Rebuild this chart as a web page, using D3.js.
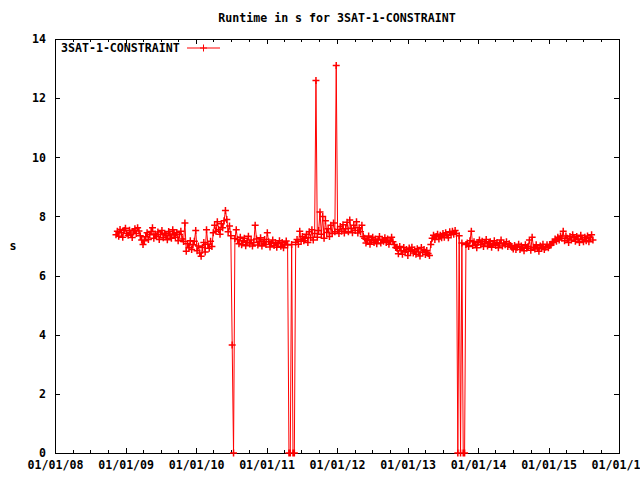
<!DOCTYPE html>
<html>
<head>
<meta charset="utf-8">
<script src="https://cdn.jsdelivr.net/npm/d3@7"></script>
<style>
  html, body { margin: 0; padding: 0; background: #fff; }
  svg text { font-family: "DejaVu Sans Mono", "Liberation Mono", monospace; font-weight: bold; font-size: 11.6px; fill: #000; }
</style>
</head>
<body>
<svg id="chart" width="640" height="480"></svg>
<script>
// ---------------- data ----------------
const chartTitle = "Runtime in s for 3SAT-1-CONSTRAINT";
const seriesName = "3SAT-1-CONSTRAINT";
const yAxisLabel = "s";
const xDomain = ["2008-01-01", "2016-01-01"];
const yDomain = [0, 14];
const yTickValues = [0, 2, 4, 6, 8, 10, 12, 14];
const xTickLabels = ["01/01/08", "01/01/09", "01/01/10", "01/01/11", "01/01/12", "01/01/13", "01/01/14", "01/01/15", "01/01/16"];
// weekly samples starting at this date
const seriesStart = "2008-11-12";
const seriesStepDays = 7;
const runtimes = [
  7.38, 7.50, 7.33, 7.56, 7.45, 7.30, 7.52, 7.60, 7.43, 7.36,
  7.53, 7.41, 7.29, 7.47, 7.58, 7.42, 7.62, 7.51, 7.35, 7.20,
  7.05, 7.18, 7.31, 7.45, 7.22, 7.38, 7.49, 7.62, 7.26, 7.41,
  7.32, 7.47, 7.22, 7.39, 7.52, 7.28, 7.43, 7.35, 7.21, 7.49,
  7.37, 7.26, 7.55, 7.41, 7.30, 7.46, 7.18, 7.39, 7.50, 7.24,
  7.15, 7.78, 6.82, 7.08, 6.94, 7.18, 6.88, 7.04, 7.16, 7.52,
  6.84, 7.00, 6.76, 6.65, 6.95, 7.12, 6.80, 7.55, 7.06, 6.92,
  7.16, 6.98, 7.45, 7.70, 7.50, 7.82, 7.56, 7.40, 7.75, 7.62,
  7.85, 8.20, 7.90, 7.48, 7.68, 7.35, 3.65, 0.00, 7.25, 7.55,
  7.22, 7.08, 7.30, 7.04, 7.18, 7.26, 7.01, 7.13, 7.33, 7.07,
  7.20, 7.00, 7.12, 7.70, 7.24, 7.03, 7.16, 7.28, 7.00, 7.10,
  7.22, 7.05, 7.45, 7.14, 6.97, 7.09, 7.20, 7.02, 7.12, 6.96,
  7.08, 7.18, 6.99, 7.12, 6.94, 7.06, 7.17, 7.03, 0.00, 0.00,
  7.05, 0.00, 0.00, 7.13, 7.22, 7.06, 7.50, 7.16, 7.32, 7.18,
  7.26, 7.40, 7.12, 7.48, 7.28, 7.55, 7.20, 7.42, 12.60, 7.30,
  7.52, 8.15, 7.40, 8.00, 7.26, 7.85, 7.46, 7.58, 7.32, 7.70,
  7.42, 7.78, 7.48, 13.10, 7.56, 7.42, 7.66, 7.50, 7.72, 7.44,
  7.58, 7.80, 7.48, 7.88, 7.60, 7.45, 7.70, 7.52, 7.82, 7.44,
  7.62, 7.48, 7.70, 7.32, 7.26, 7.10, 7.22, 7.34, 7.06, 7.18,
  7.30, 7.12, 7.24, 7.08, 7.20, 7.32, 7.10, 7.22, 7.16, 7.28,
  7.12, 7.24, 7.06, 7.18, 7.30, 7.14, 7.05, 6.95, 6.92, 6.74,
  6.98, 6.84, 6.72, 6.95, 6.80, 6.88, 6.68, 6.93, 6.82, 6.96,
  6.76, 6.87, 6.72, 6.91, 6.80, 6.66, 6.95, 6.78, 6.88, 6.71,
  6.85, 6.75, 6.68, 7.05, 7.26, 7.36, 7.22, 7.32, 7.40, 7.24,
  7.36, 7.28, 7.42, 7.30, 7.45, 7.36, 7.28, 7.48, 7.38, 7.50,
  7.40, 7.52, 7.42, 0.00, 7.35, 0.00, 7.10, 0.00, 0.00, 7.05,
  7.10, 6.98, 7.18, 7.50, 7.02, 7.14, 7.06, 6.94, 7.12, 7.20,
  7.04, 7.16, 6.98, 7.10, 7.22, 7.00, 7.08, 7.14, 6.96, 7.06,
  7.18, 7.02, 7.12, 6.94, 7.08, 7.20, 7.00, 7.10, 7.04, 7.14,
  6.98, 7.08, 7.02, 6.96, 6.90, 7.02, 6.88, 6.96, 7.06, 6.88,
  7.00, 6.94, 6.84, 7.04, 6.92, 6.98, 7.20, 6.86, 7.30, 6.96,
  6.90, 7.04, 6.94, 6.82, 7.00, 6.92, 7.06, 6.88, 6.96, 7.04,
  6.94, 7.02, 7.06, 7.14, 7.12, 7.24, 7.16, 7.30, 7.20, 7.34,
  7.26, 7.50, 7.18, 7.34, 7.26, 7.12, 7.32, 7.20, 7.38, 7.28,
  7.16, 7.32, 7.24, 7.12, 7.36, 7.22, 7.14, 7.30, 7.18, 7.34,
  7.14, 7.28, 7.38, 7.20
];

// ---------------- layout ----------------
const margin = { left: 55, right: 619, top: 39, bottom: 453 };
const red = "#ff0000";
const parse = d3.utcParse("%Y-%m-%d");

const startDate = parse(seriesStart);
const points = runtimes.map((v, i) => ({ date: d3.utcDay.offset(startDate, i * seriesStepDays), value: v }));

const x = d3.scaleUtc().domain(xDomain.map(parse)).range([margin.left, margin.right]);
const y = d3.scaleLinear().domain(yDomain).range([margin.bottom, margin.top]);

const svg = d3.select("#chart");
svg.append("rect").attr("width", 640).attr("height", 480).attr("fill", "#fff");

// title
svg.append("text").attr("x", (margin.left + margin.right) / 2).attr("y", 22)
  .attr("text-anchor", "middle").text(chartTitle);

// y label
svg.append("text").attr("x", 13).attr("y", 250).attr("text-anchor", "middle").text(yAxisLabel);

const majorLen = 5, minorLen = 3;
const xMajor = d3.utcYear.range(parse(xDomain[0]), d3.utcDay.offset(parse(xDomain[1]), 1));
const xMinor = d3.utcMonth.every(3).range(parse(xDomain[0]), parse(xDomain[1])).filter(d => d.getUTCMonth() !== 0);

// bottom axis
const xAxisB = d3.axisBottom(x).tickValues(xMajor).tickSize(-majorLen).tickPadding(majorLen + 7)
  .tickFormat((d, i) => xTickLabels[i]);
const gxb = svg.append("g").attr("transform", `translate(0,${margin.bottom})`).call(xAxisB);
const xAxisBm = d3.axisBottom(x).tickValues(xMinor).tickSize(-minorLen).tickFormat("");
svg.append("g").attr("transform", `translate(0,${margin.bottom})`).call(xAxisBm);
// top mirror
svg.append("g").attr("transform", `translate(0,${margin.top})`)
  .call(d3.axisTop(x).tickValues(xMajor).tickSize(-majorLen).tickFormat(""));
svg.append("g").attr("transform", `translate(0,${margin.top})`)
  .call(d3.axisTop(x).tickValues(xMinor).tickSize(-minorLen).tickFormat(""));

// left axis
svg.append("g").attr("transform", `translate(${margin.left},0)`)
  .call(d3.axisLeft(y).tickValues(yTickValues).tickSize(-majorLen).tickPadding(majorLen + 4).tickFormat(d3.format("d")));
// right mirror
svg.append("g").attr("transform", `translate(${margin.right},0)`)
  .call(d3.axisRight(y).tickValues(yTickValues).tickSize(-majorLen).tickFormat(""));

svg.selectAll(".domain").remove();
svg.selectAll(".tick line").attr("stroke", "#000").attr("stroke-width", 1).attr("shape-rendering", "crispEdges");
svg.selectAll(".tick text").attr("fill", "#000")
  .style("font-family", '"DejaVu Sans Mono", monospace').style("font-weight", "bold").style("font-size", "11.6px");
gxb.selectAll(".tick text").attr("dy", "0.71em").attr("y", 8);

// border
svg.append("rect").attr("x", margin.left + 0.5).attr("y", margin.top + 0.5)
  .attr("width", margin.right - margin.left).attr("height", margin.bottom - margin.top)
  .attr("fill", "none").attr("stroke", "#000").attr("stroke-width", 1).attr("shape-rendering", "crispEdges");

// data line
const line = d3.line().x(d => x(d.date)).y(d => y(d.value));
svg.append("path").datum(points).attr("d", line)
  .attr("fill", "none").attr("stroke", red).attr("stroke-width", 1);

// markers (+)
const ps = 3.5;
const plus = (cx, cy) => `M${cx - ps},${cy}H${cx + ps}M${cx},${cy - ps}V${cy + ps}`;
svg.append("path")
  .attr("d", points.map(d => plus(x(d.date), y(d.value))).join(""))
  .attr("fill", "none").attr("stroke", red).attr("stroke-width", 1.5);

// legend
svg.append("text").attr("x", 61).attr("y", 52).text(seriesName);
svg.append("line").attr("x1", 187).attr("x2", 220).attr("y1", 48).attr("y2", 48)
  .attr("stroke", red).attr("stroke-width", 1);
svg.append("path").attr("d", plus(203.5, 48)).attr("stroke", red).attr("stroke-width", 1);
</script>
</body>
</html>
